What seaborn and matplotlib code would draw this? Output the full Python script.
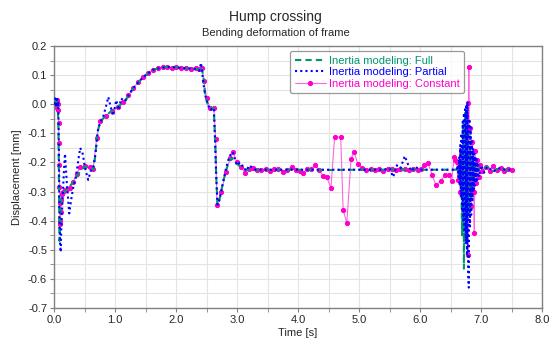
import matplotlib
matplotlib.use("Agg")
import matplotlib.pyplot as plt
import matplotlib.ticker as mticker
import seaborn as sns
import pandas as pd

# ---------------- data ----------------
t_full = [
    0.00, 0.02, 0.03, 0.05, 0.06, 0.07, 0.08, 0.09, 0.10, 0.11,
    0.12, 0.14, 0.17, 0.20, 0.25, 0.30, 0.35, 0.40, 0.45, 0.50,
    0.55, 0.60, 0.65, 0.68, 0.71, 0.75, 0.80, 0.85, 0.92, 1.00,
    1.08, 1.16, 1.30, 1.46, 1.62, 1.75, 1.85, 2.00, 2.11, 2.25,
    2.34, 2.40, 2.42, 2.45, 2.48, 2.52, 2.56, 2.62, 2.64, 2.66,
    2.68, 2.71, 2.74, 2.78, 2.82, 2.86, 2.90, 2.95, 3.00, 3.10,
    3.20, 3.50, 4.00, 4.50, 5.00, 5.50, 6.00, 6.40, 6.60, 6.63,
    6.65, 6.67, 6.69, 6.71, 6.72, 6.74, 6.76, 6.78, 6.80, 6.82,
    6.84, 6.86, 6.88, 6.90, 6.92, 6.95, 7.00, 7.10,
    7.20, 7.30, 7.40, 7.52]
y_full = [
    0.00, 0.01, -0.01, 0.02, 0.00, -0.05, -0.25, -0.47, -0.42, -0.35,
    -0.33, -0.31, -0.30, -0.295, -0.285, -0.27, -0.255, -0.24, -0.225, -0.215,
    -0.215, -0.218, -0.225, -0.17, -0.10, -0.065, -0.05, -0.04, -0.027, -0.015,
    -0.003, 0.008, 0.056, 0.093, 0.118, 0.125, 0.128, 0.127, 0.124, 0.123,
    0.121, 0.12, 0.128, 0.09, 0.03, 0.0, -0.013, -0.013, -0.12, -0.25,
    -0.345, -0.33, -0.30, -0.26, -0.23, -0.20, -0.185, -0.19, -0.205, -0.222,
    -0.226, -0.225, -0.225, -0.226, -0.225, -0.225, -0.225, -0.225, -0.225, -0.22,
    -0.26, -0.17, -0.45, -0.06, -0.565, -0.03, -0.48, -0.10, -0.38, -0.15,
    -0.32, -0.18, -0.27, -0.20, -0.24, -0.22, -0.225, -0.215,
    -0.23, -0.22, -0.225, -0.23]

t_part = [
    0.00, 0.02, 0.03, 0.04, 0.05, 0.06, 0.07, 0.08, 0.09, 0.10,
    0.11, 0.12, 0.14, 0.16, 0.18, 0.21, 0.25, 0.28, 0.32, 0.36,
    0.40, 0.43, 0.47, 0.51, 0.56, 0.60, 0.64, 0.68, 0.72, 0.76,
    0.80, 0.85, 0.89, 0.93, 0.97, 1.02, 1.06, 1.10, 1.16, 1.30,
    1.46, 1.62, 1.75, 1.85, 2.00, 2.11, 2.25, 2.34, 2.38, 2.41,
    2.43, 2.45, 2.48, 2.52, 2.56, 2.62, 2.64, 2.66, 2.68, 2.71,
    2.74, 2.78, 2.82, 2.86, 2.90, 2.93, 2.97, 3.00, 3.05, 3.10,
    3.15, 3.20, 3.30, 3.50, 4.00, 4.50, 5.00, 5.40, 5.50, 5.56,
    5.62, 5.68, 5.75, 5.80, 5.86, 5.92, 6.00, 6.40, 6.60, 6.62,
    6.63, 6.64, 6.65, 6.66, 6.67, 6.68, 6.69, 6.70, 6.71, 6.72,
    6.73, 6.74, 6.75, 6.76, 6.77, 6.78, 6.79, 6.80, 6.81, 6.82,
    6.83, 6.84, 6.85, 6.86, 6.87, 6.88, 6.89, 6.90, 6.91, 6.92,
    6.93, 6.94, 6.95, 6.97, 7.00, 7.05, 7.10, 7.20, 7.30, 7.40,
    7.52]
y_part = [
    0.00, 0.02, -0.01, 0.01, 0.025, -0.01, 0.01, -0.15, -0.40, -0.48,
    -0.508, -0.42, -0.33, -0.24, -0.17, -0.27, -0.375, -0.33, -0.28, -0.25,
    -0.19, -0.15, -0.17, -0.22, -0.26, -0.23, -0.22, -0.17, -0.09, -0.06,
    -0.047, -0.01, 0.025, -0.01, -0.04, 0.014, -0.02, 0.02, 0.01, 0.056,
    0.093, 0.118, 0.125, 0.128, 0.127, 0.124, 0.123, 0.12, 0.115, 0.142,
    0.11, 0.07, 0.03, 0.0, -0.02, -0.013, -0.12, -0.25, -0.345, -0.33,
    -0.30, -0.26, -0.22, -0.19, -0.17, -0.164, -0.19, -0.21, -0.20, -0.215,
    -0.23, -0.21, -0.225, -0.225, -0.225, -0.225, -0.225, -0.225, -0.22, -0.25,
    -0.21, -0.22, -0.178, -0.205, -0.23, -0.215, -0.225, -0.225, -0.225, -0.21,
    -0.25, -0.18, -0.28, -0.14, -0.32, -0.10, -0.36, -0.06, -0.40, -0.03,
    -0.44, -0.01, -0.48, 0.00, -0.52, 0.01, -0.58, -0.63, -0.05, -0.42,
    -0.08, -0.38, -0.12, -0.33, -0.15, -0.30, -0.17, -0.28, -0.18, -0.27,
    -0.19, -0.26, -0.20, -0.25, -0.21, -0.235, -0.215, -0.23, -0.22, -0.225,
    -0.225]

t_const = [
    0.00, 0.02, 0.04, 0.05, 0.06, 0.07, 0.075, 0.08, 0.085, 0.09,
    0.095, 0.10, 0.105, 0.11, 0.12, 0.13, 0.15, 0.18, 0.22, 0.26,
    0.31, 0.37, 0.43, 0.50, 0.59, 0.64, 0.70, 0.75, 0.85, 0.95,
    1.05, 1.13, 1.22, 1.30, 1.38, 1.46, 1.54, 1.62, 1.70, 1.78,
    1.85, 1.93, 2.00, 2.08, 2.16, 2.24, 2.32, 2.38, 2.42, 2.46,
    2.50, 2.56, 2.62, 2.65, 2.67, 2.74, 2.82, 2.89, 2.93, 3.00,
    3.06, 3.13, 3.20, 3.26, 3.33, 3.40, 3.47, 3.54, 3.61, 3.68,
    3.75, 3.82, 3.90, 3.97, 4.03, 4.08, 4.15, 4.22, 4.28, 4.35,
    4.41, 4.47, 4.54, 4.60, 4.70, 4.74, 4.80, 4.87, 4.92, 4.98,
    5.05, 5.12, 5.19, 5.26, 5.33, 5.40, 5.47, 5.54, 5.61, 5.68,
    5.75, 5.82, 5.89, 5.96, 6.02, 6.07, 6.13, 6.20, 6.26, 6.34,
    6.41, 6.48, 6.52, 6.56, 6.58, 6.60, 6.62, 6.64, 6.66, 6.68,
    6.70, 6.72, 6.74, 6.76, 6.77, 6.78, 6.79, 6.80, 6.81, 6.82,
    6.84, 6.86, 6.88, 6.89, 6.90, 6.92, 6.94, 6.96, 6.98, 7.02,
    7.08, 7.14, 7.20, 7.26, 7.32, 7.38, 7.44, 7.50]
y_const = [
    0.00, 0.01, -0.01, 0.015, 0.00, -0.02, -0.065, -0.133, -0.209, -0.284,
    -0.34, -0.40, -0.41, -0.37, -0.33, -0.31, -0.30, -0.295, -0.29, -0.288,
    -0.267, -0.24, -0.216, -0.212, -0.215, -0.224, -0.116, -0.058, -0.04, -0.023,
    -0.01, 0.008, 0.03, 0.056, 0.075, 0.093, 0.108, 0.118, 0.124, 0.127,
    0.128, 0.126, 0.127, 0.124, 0.125, 0.122, 0.123, 0.12, 0.125, 0.08,
    0.02, -0.013, -0.012, -0.12, -0.345, -0.30, -0.233, -0.185, -0.164, -0.199,
    -0.215, -0.236, -0.222, -0.219, -0.225, -0.227, -0.222, -0.228, -0.224, -0.222,
    -0.233, -0.225, -0.216, -0.226, -0.228, -0.236, -0.224, -0.222, -0.209, -0.225,
    -0.247, -0.25, -0.288, -0.113, -0.113, -0.363, -0.408, -0.188, -0.164, -0.205,
    -0.22, -0.226, -0.223, -0.227, -0.222, -0.228, -0.224, -0.222, -0.226, -0.224,
    -0.222, -0.226, -0.224, -0.225, -0.222, -0.209, -0.202, -0.243, -0.278, -0.264,
    -0.243, -0.243, -0.264, -0.181, -0.19, -0.20, -0.26, -0.22, -0.30, -0.16,
    -0.36, -0.10, -0.45, -0.04, -0.30, 0.004, -0.518, 0.128, -0.30, -0.08,
    -0.35, -0.13, -0.30, -0.443, -0.16, -0.27, -0.19, -0.25, -0.21, -0.23,
    -0.215, -0.228, -0.212, -0.225, -0.218, -0.23, -0.222, -0.226]

labels = ["Inertia modeling: Full", "Inertia modeling: Partial", "Inertia modeling: Constant"]
title = "Hump crossing"
subtitle = "Bending deformation of frame"
xlabel = "Time [s]"
ylabel = "Displacement [mm]"

# ---------------- style ----------------
sns.set_style("white")
plt.rcParams["font.family"] = ["Liberation Sans", "DejaVu Sans"]

c_full = "#00966e"
c_part = "#0000ff"
c_const = "#ff00cc"

fig = plt.figure(figsize=(5.51, 3.42), dpi=100)
ax = fig.add_axes([54 / 551, 34 / 342, 488 / 551, 262 / 342])

df_full = pd.DataFrame({"t": t_full, "y": y_full})
df_part = pd.DataFrame({"t": t_part, "y": y_part})
df_const = pd.DataFrame({"t": t_const, "y": y_const})

sns.lineplot(data=df_full, x="t", y="y", ax=ax, color=c_full, lw=1.5,
             linestyle=(0, (3, 2)), estimator=None, sort=False,
             label=labels[0], zorder=3)
sns.lineplot(data=df_part, x="t", y="y", ax=ax, color=c_part, lw=1.5,
             linestyle=(0, (1, 1.5)), estimator=None, sort=False,
             label=labels[1], zorder=4)
sns.lineplot(data=df_const, x="t", y="y", ax=ax, color="#ff66dd", lw=0.8,
             marker="o", markersize=3.0, markerfacecolor=c_const,
             markeredgecolor=c_const, estimator=None, sort=False,
             label=labels[2], zorder=2)

ax.set_xlim(0, 8)
ax.set_ylim(-0.7, 0.2)
ax.xaxis.set_major_locator(mticker.MultipleLocator(1.0))
ax.xaxis.set_minor_locator(mticker.MultipleLocator(0.5))
ax.yaxis.set_major_locator(mticker.MultipleLocator(0.1))
ax.yaxis.set_minor_locator(mticker.MultipleLocator(0.05))
fmt = mticker.FuncFormatter(lambda v, p: ("%.1f" % v).replace("-0.0", "0.0"))
ax.xaxis.set_major_formatter(fmt)
ax.yaxis.set_major_formatter(fmt)

ax.grid(True, which="both", color="#e4e4e4", lw=0.8)
ax.set_axisbelow(True)
for s in ax.spines.values():
    s.set_color("#808080")
    s.set_linewidth(1.0)
ax.tick_params(which="both", direction="out", length=3, color="#808080",
               labelsize=8, bottom=True, left=True, pad=2)

ax.set_xlabel(xlabel, fontsize=8, labelpad=2)
ax.set_ylabel(ylabel, fontsize=8, labelpad=4)

fig.text(0.5, 1 - 17 / 342, title, ha="center", va="center", fontsize=10)
fig.text(0.5, 1 - 33 / 342, subtitle, ha="center", va="center", fontsize=8)

handles, labs = ax.get_legend_handles_labels()
order = [labs.index(l) for l in labels]
leg = ax.legend([handles[i] for i in order], [labs[i] for i in order],
                loc="upper left", bbox_to_anchor=(0.484, 0.98), fontsize=8,
                frameon=True, fancybox=True, edgecolor="#808080",
                handlelength=2.8, handletextpad=0.3, borderpad=0.4,
                labelspacing=0.15, borderaxespad=0)
leg.get_frame().set_linewidth(0.9)
for txt, col in zip(leg.get_texts(), [c_full, c_part, c_const]):
    txt.set_color(col)

fig.savefig("out.png", dpi=100)
